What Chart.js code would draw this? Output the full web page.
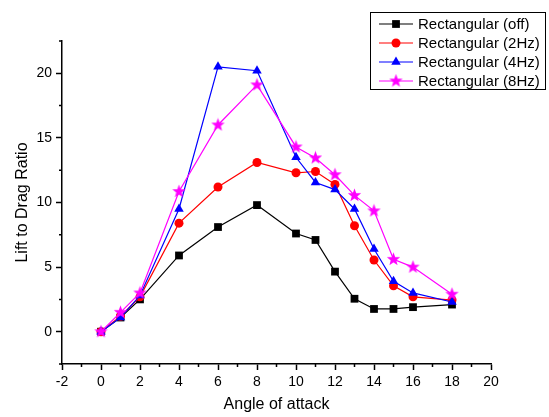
<!DOCTYPE html>
<html>
<head>
<meta charset="utf-8">
<script src="https://cdn.jsdelivr.net/npm/chart.js@4.4.0/dist/chart.umd.min.js"></script>
<style>
  html, body { margin: 0; padding: 0; background: #fff; }
  #wrap { width: 549px; height: 417px; }
</style>
</head>
<body>
<div id="wrap"><canvas id="dragChart" width="549" height="417"></canvas></div>
<script>
// data
const angles = [0, 1, 2, 4, 6, 8, 10, 11, 12, 13, 14, 15, 16, 18];
const rectOff = [0, 1.1, 2.5, 5.9, 8.1, 9.8, 7.6, 7.1, 4.65, 2.55, 1.76, 1.76, 1.9, 2.1];
const rect2Hz = [0, 1.2, 2.7, 8.4, 11.2, 13.1, 12.3, 12.4, 11.4, 8.2, 5.55, 3.55, 2.7, 2.45];
const rect4Hz = [0, 1.1, 2.8, 9.5, 20.5, 20.2, 13.5, 11.55, 11.0, 9.5, 6.4, 3.9, 3.0, 2.3];
const rect8Hz = [0, 1.5, 3.0, 10.85, 16.0, 19.1, 14.3, 13.45, 12.15, 10.55, 9.35, 5.6, 5.0, 2.9];
const seriesNames = ['Rectangular (off)', 'Rectangular (2Hz)', 'Rectangular (4Hz)', 'Rectangular (8Hz)'];
const xTicks = [-2, 0, 2, 4, 6, 8, 10, 12, 14, 16, 18, 20];
const yTicks = [0, 5, 10, 15, 20];
const xMinor = [-1, 1, 3, 5, 7, 9, 11, 13, 15, 17, 19];
const yMinor = [-2.5, 2.5, 7.5, 12.5, 17.5, 22.5];

const FONT = "'Liberation Sans', Arial, sans-serif";

// filled five point star for the 8Hz series
function makeStar(color) {
  const c = document.createElement('canvas');
  c.width = 15; c.height = 15;
  const g = c.getContext('2d');
  g.fillStyle = color;
  g.beginPath();
  for (let i = 0; i < 10; i++) {
    const r = i % 2 === 0 ? 7 : 2.9;
    const a = -Math.PI / 2 + i * Math.PI / 5;
    const px = 7.5 + r * Math.cos(a), py = 7.5 + r * Math.sin(a);
    if (i === 0) g.moveTo(px, py); else g.lineTo(px, py);
  }
  g.closePath();
  g.fill();
  return c;
}
const starImg = makeStar('#ff00ff');

function pts(ys) {
  return angles.map((x, i) => ({ x: x, y: ys[i] }));
}

const styles = [
  { color: '#000000', pointStyle: 'rect', radius: 5.5, order: 4 },
  { color: '#ff0000', pointStyle: 'circle', radius: 4.5, order: 3 },
  { color: '#0000ff', pointStyle: 'triangle', radius: 5.5, order: 2 },
  { color: '#ff00ff', pointStyle: starImg, radius: 6, order: 1 }
];
const allSeries = [rectOff, rect2Hz, rect4Hz, rect8Hz];

const datasets = allSeries.map((ys, i) => ({
  label: seriesNames[i],
  data: pts(ys),
  showLine: true,
  borderColor: styles[i].color,
  backgroundColor: styles[i].color,
  borderWidth: 1.2,
  pointStyle: styles[i].pointStyle,
  pointRadius: styles[i].radius,
  pointBorderWidth: 0,
  order: styles[i].order
}));

// minor ticks + boxed legend with line/marker samples
const extras = {
  id: 'extras',
  afterDraw(chart) {
    const ctx = chart.ctx;
    const xs = chart.scales.x, ys = chart.scales.y;
    const area = chart.chartArea;
    ctx.save();
    ctx.strokeStyle = '#000';
    ctx.lineWidth = 1.5;
    ctx.beginPath();
    xMinor.forEach(v => {
      const px = xs.getPixelForValue(v);
      ctx.moveTo(px, area.bottom);
      ctx.lineTo(px, area.bottom + 3);
    });
    yMinor.forEach(v => {
      const py = ys.getPixelForValue(v);
      ctx.moveTo(area.left, py);
      ctx.lineTo(area.left - 3, py);
    });
    ctx.stroke();

    // legend
    ctx.lineWidth = 1;
    ctx.strokeStyle = '#000';
    ctx.strokeRect(370.5, 12.5, 175, 77);
    ctx.font = '15px ' + FONT;
    ctx.textBaseline = 'middle';
    ctx.fillStyle = '#000';
    seriesNames.forEach((name, i) => {
      const y = 24 + i * 19;
      ctx.strokeStyle = styles[i].color;
      ctx.lineWidth = 1.2;
      ctx.beginPath();
      ctx.moveTo(379, y);
      ctx.lineTo(413, y);
      ctx.stroke();
      ctx.fillStyle = styles[i].color;
      Chart.helpers.drawPoint(ctx, {
        pointStyle: styles[i].pointStyle,
        radius: styles[i].radius,
        borderWidth: 0
      }, 396, y);
      ctx.fillStyle = '#000';
      ctx.fillText(name, 418, y + 1);
    });
    ctx.restore();
  }
};

const dragChart = new Chart(document.getElementById('dragChart').getContext('2d'), {
  type: 'scatter',
  data: { datasets: datasets },
  options: {
    responsive: false,
    animation: false,
    layout: { padding: { left: 0, top: 41, right: 58, bottom: 0 } },
    plugins: { legend: { display: false }, tooltip: { enabled: false } },
    scales: {
      x: {
        type: 'linear',
        min: -2, max: 20,
        afterBuildTicks: s => { s.ticks = xTicks.map(v => ({ value: v })); },
        afterFit: s => { s.height = 53; },
        border: { color: '#000', width: 1.5 },
        grid: { drawOnChartArea: false, drawTicks: true, tickLength: 6, tickColor: '#000', tickWidth: 1.5 },
        ticks: { color: '#000', font: { family: FONT, size: 14 }, padding: 4, maxRotation: 0 },
        title: { display: true, text: 'Angle of attack', color: '#000', font: { family: FONT, size: 16 }, padding: { top: 0, bottom: 3 } }
      },
      y: {
        type: 'linear',
        min: -2.5, max: 22.5,
        afterBuildTicks: s => { s.ticks = yTicks.map(v => ({ value: v })); },
        afterFit: s => { s.width = 62; },
        border: { color: '#000', width: 1.5 },
        grid: { drawOnChartArea: false, drawTicks: true, tickLength: 6, tickColor: '#000', tickWidth: 1.5 },
        ticks: { color: '#000', font: { family: FONT, size: 14 }, padding: 4 },
        title: { display: true, text: 'Lift to Drag Ratio', color: '#000', font: { family: FONT, size: 16 }, padding: { top: 13, bottom: 0 } }
      }
    }
  },
  plugins: [extras]
});
</script>
</body>
</html>
